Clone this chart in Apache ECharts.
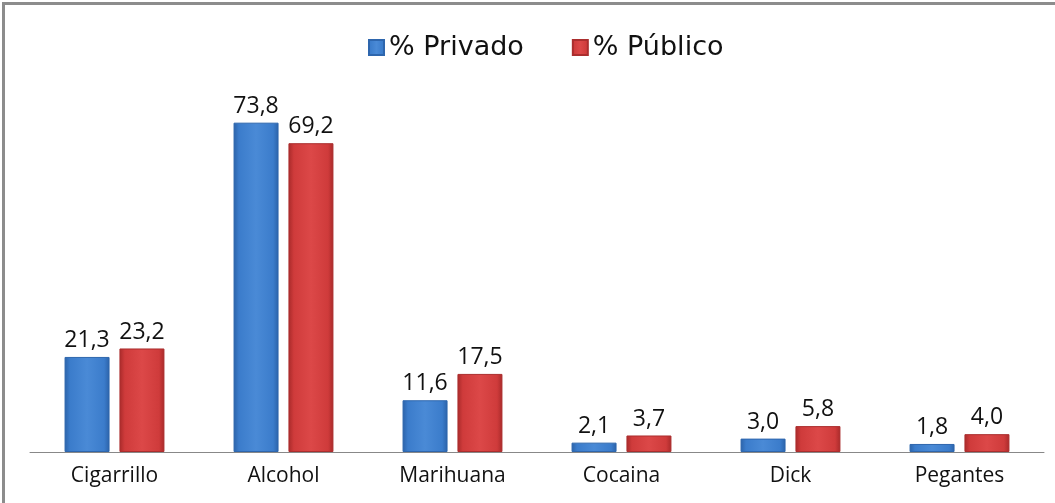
<!DOCTYPE html>
<html>
<head>
<meta charset="utf-8">
<script src="https://cdn.jsdelivr.net/npm/echarts@6/dist/echarts.min.js"></script>
<style>
  html, body { margin: 0; padding: 0; background: #fff; }
  #chart { width: 1055px; height: 503px; }
</style>
</head>
<body>
<div id="chart"></div>
<script>
// Substances and the share of students who reported use, by school type
const categories = ['Cigarrillo', 'Alcohol', 'Marihuana', 'Cocaina', 'Dick', 'Pegantes'];
const privado = [21.3, 73.8, 11.6, 2.1, 3.0, 1.8];
const publico = [23.2, 69.2, 17.5, 3.7, 5.8, 4.0];
const seriesNames = ['% Privado', '% Público'];

const chart = echarts.init(document.getElementById('chart'));

function bevel(dark, mid, light) {
  return new echarts.graphic.LinearGradient(0, 0, 1, 0, [
    { offset: 0, color: dark },
    { offset: 0.12, color: mid },
    { offset: 0.5, color: light },
    { offset: 0.88, color: mid },
    { offset: 1, color: dark }
  ]);
}

const labelCfg = {
  show: true,
  position: 'top',
  distance: 5,
  color: '#111',
  fontSize: 23,
  fontFamily: 'Open Sans, sans-serif',
  formatter: p => p.value.toFixed(1).replace('.', ',')
};

chart.setOption({
  animation: false,
  backgroundColor: '#fff',
  graphic: [
    { type: 'rect', shape: { x: 2, y: 2, width: 3, height: 501 }, style: { fill: '#8c8c8c' } },
    { type: 'rect', shape: { x: 2, y: 2, width: 1053, height: 3 }, style: { fill: '#8c8c8c' } }
  ],
  legend: {
    top: 29,
    left: 363,
    icon: 'rect',
    itemWidth: 15,
    itemHeight: 15,
    itemGap: 48,
    textStyle: { fontSize: 27, color: '#111', fontFamily: 'DejaVu Sans, sans-serif' },
    data: seriesNames
  },
  grid: { left: 30, right: 11, top: 95, bottom: 51, containLabel: false },
  xAxis: {
    type: 'category',
    data: categories,
    axisLine: { show: true, lineStyle: { color: '#888', width: 1 } },
    axisTick: { show: false },
    axisLabel: { fontSize: 21, color: '#111', margin: 14, fontFamily: 'Open Sans, sans-serif' }
  },
  yAxis: {
    type: 'value',
    min: 0,
    max: 80,
    show: false,
    splitLine: { show: false }
  },
  series: [
    {
      name: seriesNames[0],
      type: 'bar',
      data: privado,
      barWidth: 45,
      barGap: '22%',
      itemStyle: { color: bevel('#2b62a8', '#3b7ccb', '#4a8ad6'), borderColor: '#2e66ad', borderWidth: 1 },
      label: labelCfg
    },
    {
      name: seriesNames[1],
      type: 'bar',
      data: publico,
      barWidth: 45,
      itemStyle: { color: bevel('#a82a2a', '#cf3b3b', '#dc4848'), borderColor: '#ab2e2e', borderWidth: 1 },
      label: labelCfg
    }
  ]
});
</script>
</body>
</html>
